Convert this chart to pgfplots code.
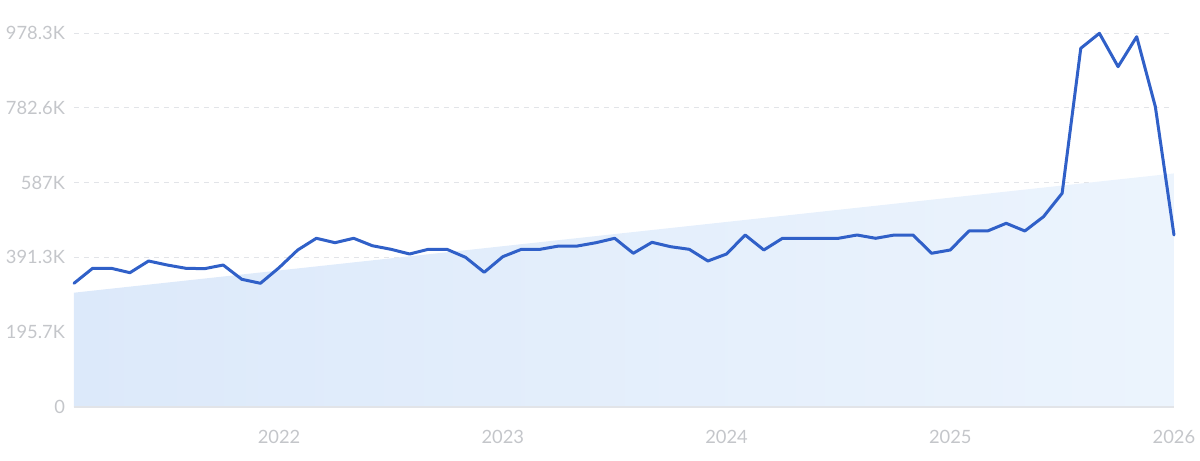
\documentclass[border=0pt]{standalone}
\usepackage{fontspec}
\setmainfont{Lato}
\usepackage{pgfplots}
\pgfplotsset{compat=1.18}
\definecolor{lineblue}{RGB}{48,96,200}
\definecolor{areaL}{RGB}{220,233,250}
\definecolor{areaR}{RGB}{236,244,253}
\definecolor{ticktext}{RGB}{196,198,202}
\definecolor{gridc}{RGB}{226,228,232}
\begin{document}
\begin{tikzpicture}
\useasboundingbox (0,0) rectangle (600bp,230.5bp);
\begin{axis}[
  at={(37bp,27bp)}, anchor=south west,
  scale only axis, width=550bp, height=187bp,
  xmin=0, xmax=59, ymin=0, ymax=978.3,
  axis line style={draw=none},
  axis x line*=bottom, axis y line*=left,
  major tick length=0pt,
  xtick={11,23,35,47,59},
  xticklabels={2022,2023,2024,2025,2026},
  ytick={0,195.65,391.3,586.95,782.6,978.25},
  yticklabels={0,195.7K,391.3K,587K,782.6K,978.3K},
  ymajorgrids,
  grid style={gridc, dash pattern=on 2.5bp off 2.5bp, line width=0.5bp},
  tick label style={font=\fontsize{9.2}{10}\selectfont, text=ticktext},
  yticklabel style={xshift=-1bp},
  xticklabel style={yshift=-8bp},
  clip=false,
]
\addplot[draw=none, left color=areaL, right color=areaR] coordinates {(0,0) (0,299) (59,611) (59,0)} -- cycle;
\draw[gridc, line width=0.6bp] (axis cs:0,0) -- (axis cs:59,0);
\addplot[lineblue, line width=1.5bp, line join=round, line cap=round] coordinates {
(0,323.6) (1,362.8) (2,362.8) (3,351.3) (4,381.9) (5,371.4) (6,362.8) (7,361.8)
(8,371.4) (9,334.0) (10,323.6) (11,364.4) (12,410.7) (13,441.3) (14,429.8) (15,441.3)
(16,421.9) (17,412.5) (18,400.2) (19,412.5) (20,412.5) (21,391.6) (22,352.3) (23,393.2)
(24,412.5) (25,412.5) (26,421.1) (27,421.1) (28,429.8) (29,441.3) (30,402.1) (31,430.8)
(32,419.3) (33,412.5) (34,381.9) (35,400.2) (36,449.9) (37,410.7) (38,441.3) (39,441.3)
(40,441.3) (41,441.3) (42,449.9) (43,441.3) (44,449.9) (45,449.9) (46,402.1) (47,410.7)
(48,460.4) (49,460.4) (50,480.5) (51,460.4) (52,497.8) (53,559.0) (54,938.3) (55,977.5)
(56,890.2) (57,968.6) (58,785.5) (59,449.9)
};
\end{axis}
\end{tikzpicture}
\end{document}
